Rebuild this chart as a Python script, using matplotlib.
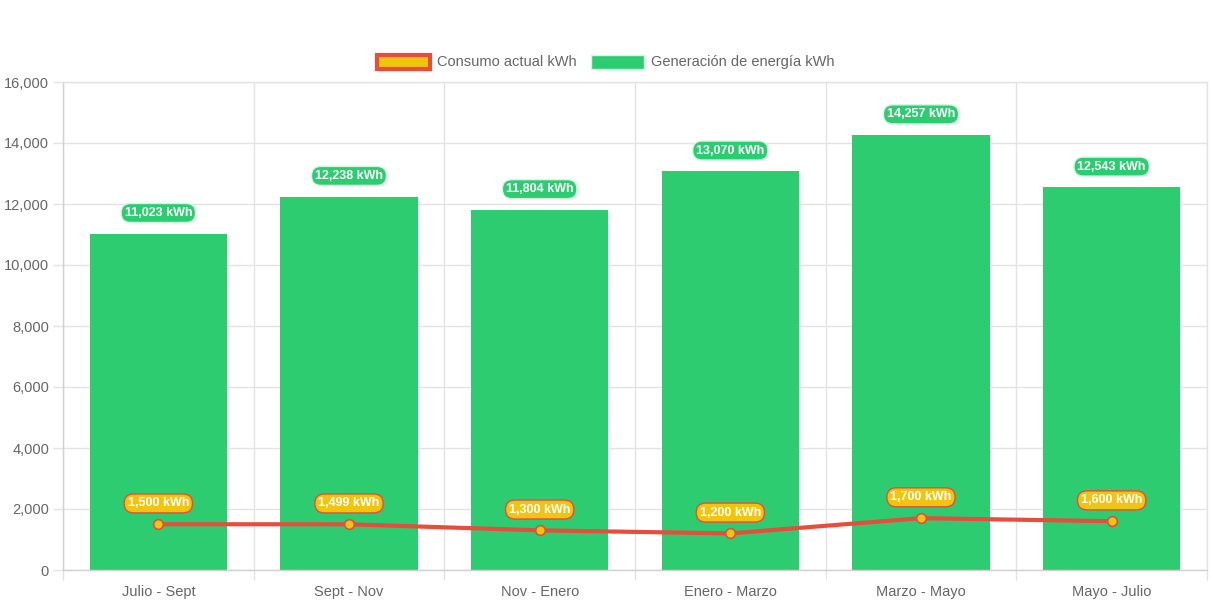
import matplotlib
matplotlib.use("Agg")
import matplotlib.pyplot as plt
from matplotlib.patches import Patch
from matplotlib.ticker import FuncFormatter, MultipleLocator, FixedLocator
import numpy as np

categories = ["Julio - Sept", "Sept - Nov", "Nov - Enero", "Enero - Marzo", "Marzo - Mayo", "Mayo - Julio"]
generacion = [11023, 12238, 11804, 13070, 14257, 12543]
consumo = [1500, 1499, 1300, 1200, 1700, 1600]

GREEN = "#2ecc71"
RED = "#e74c3c"
YELLOW = "#f1c40f"
GRID = "#e3e3e3"
TXT = "#666666"

plt.rcParams['font.family'] = ['Liberation Sans', 'DejaVu Sans']

fig = plt.figure(figsize=(12.13, 6.06), dpi=100)
ax = fig.add_axes([63/1213, 36/606, (1207-63)/1213, (570-82)/606])

x = np.arange(len(categories))
ax.bar(x, generacion, width=0.72, color=GREEN, zorder=2)
ax.plot(x, consumo, color=RED, lw=3, zorder=3, solid_capstyle='round')
ax.plot(x, consumo, 'o', ms=7, mfc=YELLOW, mec=RED, mew=1.2, zorder=4)

for xi, v in zip(x, generacion):
    ax.annotate(f"{v:,} kWh", (xi, v), xytext=(0, 15.0), textcoords='offset points',
                ha='center', va='center', color='white', fontsize=9, fontweight='bold',
                bbox=dict(boxstyle='round,pad=0.28,rounding_size=0.75', fc=GREEN, ec='#d5f5e3', lw=1),
                zorder=5)
for xi, v in zip(x, consumo):
    ax.annotate(f"{v:,} kWh", (xi, v), xytext=(0, 15.0), textcoords='offset points',
                ha='center', va='center', color='white', fontsize=9, fontweight='bold',
                bbox=dict(boxstyle='round,pad=0.28,rounding_size=0.75', fc=YELLOW, ec=RED, lw=1),
                zorder=5)

ax.set_xlim(-0.5, len(categories) - 0.5)
ax.set_ylim(0, 16000)
ax.yaxis.set_major_locator(MultipleLocator(2000))
ax.yaxis.set_major_formatter(FuncFormatter(lambda v, p: f"{int(v):,}"))
ax.set_xticks(x)
ax.set_xticklabels(categories)
ax.xaxis.set_minor_locator(FixedLocator(np.arange(-0.5, len(categories), 1.0)))
ax.tick_params(axis='x', which='major', length=0, pad=11, labelsize=10.5, labelcolor=TXT)
ax.tick_params(axis='x', which='minor', length=7, color=GRID, width=1)
ax.tick_params(axis='y', length=7, color=GRID, width=1, pad=3, labelsize=10.5, labelcolor=TXT)
ax.grid(axis='y', which='major', color=GRID, lw=1, zorder=0)
ax.grid(axis='x', which='minor', color=GRID, lw=1, zorder=0)
ax.set_axisbelow(True)
for s in ax.spines.values():
    s.set_color(GRID)
    s.set_linewidth(1)
ax.spines['left'].set_color('#d0d0d0')
ax.spines['bottom'].set_color('#d0d0d0')

handles = [Patch(facecolor=YELLOW, edgecolor=RED, linewidth=3, label="Consumo actual kWh"),
           Patch(facecolor=GREEN, edgecolor='#d5f5e3', linewidth=1, label="Generación de energía kWh")]
fig.legend(handles=handles, loc='center', bbox_to_anchor=(606/1213, 1 - 62/606), ncol=2,
           frameon=False, fontsize=10.5, labelcolor=TXT, handlelength=3.6, handleheight=1.1,
           handletextpad=0.5, columnspacing=1.0)

fig.savefig("out.png", dpi=100, facecolor='white')
